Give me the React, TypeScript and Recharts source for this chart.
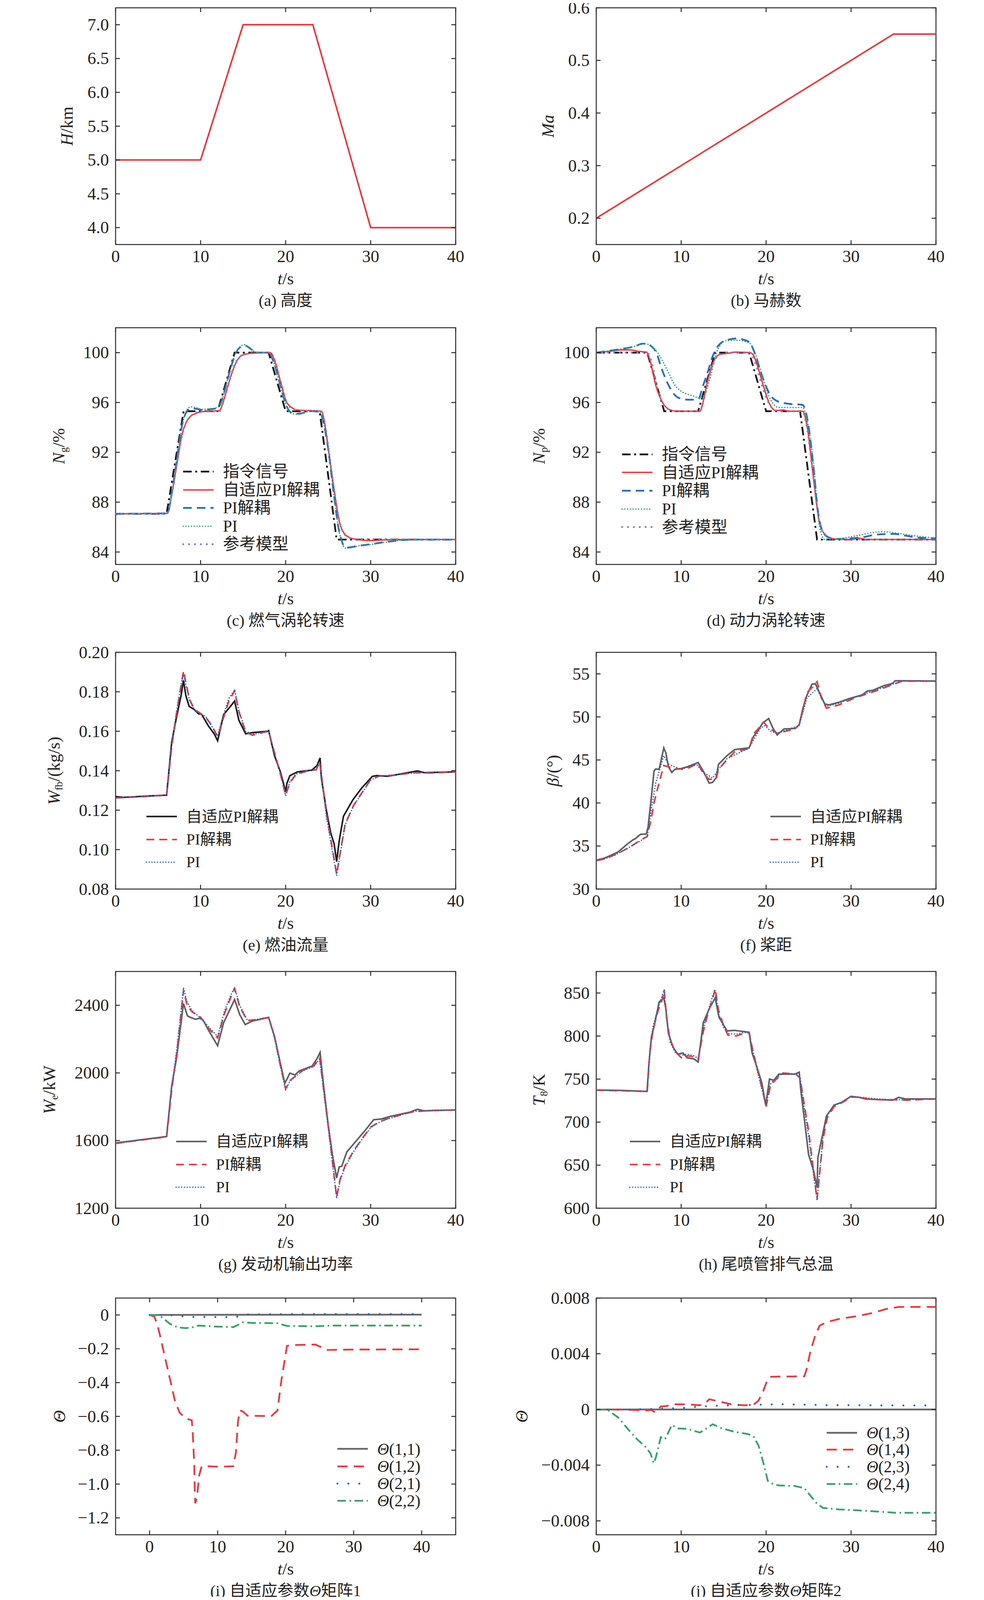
import React from "react";
import { Legend, Line, LineChart, ReferenceArea, XAxis, YAxis } from "recharts";

type Pt = [number, number];

const FONT = "'Liberation Serif', 'Times New Roman', 'Noto Sans CJK SC', serif";
const INK = "#231f20";
const FRAME = "#2b2b2b";

// the reference page is 2520 x 4698; the browser viewport may be shorter, so vertical layout is scaled to fit
const PAGE_W = 2520;
const PAGE_H = 4698;
const viewH = typeof window !== "undefined" && window.innerHeight > 1000 ? window.innerHeight : PAGE_H;
const K = Math.min(1, viewH / PAGE_H);

// ---- ticks ----
const timeTicks = [0, 10, 20, 30, 40];
const altitudeTicks = [4.0, 4.5, 5.0, 5.5, 6.0, 6.5, 7.0];
const machTicks = [0.2, 0.3, 0.4, 0.5, 0.6];
const speedTicks = [84, 88, 92, 96, 100];
const fuelTicks = [0.08, 0.1, 0.12, 0.14, 0.16, 0.18, 0.2];
const pitchTicks = [30, 35, 40, 45, 50, 55];
const powerTicks = [1200, 1600, 2000, 2400];
const tempTicks = [600, 650, 700, 750, 800, 850];
const theta1Ticks = [-1.2, -1.0, -0.8, -0.6, -0.4, -0.2, 0];
const theta2Ticks = [-0.008, -0.004, 0, 0.004, 0.008];

// ---- (a) (b) flight condition ----
const altitude: Pt[] = [[0, 5], [10, 5], [15, 7], [23.2, 7], [30, 4], [40, 4]];
const mach: Pt[] = [[0, 0.2], [35, 0.55], [40, 0.55]];

// ---- (c) gas turbine speed ----
const ngCommand: Pt[] = [[0, 87.07], [6, 87.07], [8, 95.3], [12, 95.3], [14, 100], [18, 100], [20, 95.3], [24, 95.3], [26, 85], [40, 85]];
const ngAdaptive: Pt[] = [[0, 86.95], [0.3, 87.07], [6.1, 87.1], [6.6, 88.6], [7.2, 91.0], [7.8, 93.4], [8.3, 94.4], [8.9, 94.95], [9.4, 95.1], [10, 95.25], [12.2, 95.35], [12.6, 95.9], [13.1, 97.06], [13.7, 98.4], [14.2, 99.25], [15, 99.83], [16, 99.95], [18.2, 100], [18.7, 99.4], [19.4, 97.7], [20.1, 96.05], [20.7, 95.6], [21.3, 95.4], [24.2, 95.3], [24.6, 94.3], [25, 92.4], [25.7, 89.0], [26.3, 86.5], [27, 85.4], [28, 85.05], [30, 84.92], [31, 84.95], [33, 85], [40, 85]];
const ngDecoupled: Pt[] = [[0, 87.07], [6.1, 87.1], [6.6, 88.7], [7.2, 91.4], [7.8, 94.1], [8.3, 95.2], [8.8, 95.5], [9.4, 95.5], [10.2, 95.4], [11, 95.45], [12, 95.55], [12.4, 96.0], [13, 97.4], [13.6, 98.9], [14.2, 100.05], [14.8, 100.5], [15.1, 100.6], [15.6, 100.45], [16.3, 100.1], [17, 100], [18, 100], [18.5, 99.4], [19.2, 97.8], [19.8, 96.3], [20.3, 95.45], [20.8, 95.15], [21.5, 95.1], [22.3, 95.2], [23, 95.3], [24, 95.25], [24.5, 94.2], [25, 92.3], [25.6, 89.0], [26.2, 86.0], [26.7, 84.7], [27.1, 84.35], [27.8, 84.4], [28.6, 84.5], [30, 84.62], [31.5, 84.78], [33, 84.9], [35, 85.0], [40, 85.0]];
const ngPI: Pt[] = [[0, 87.07], [6.1, 87.1], [6.6, 88.6], [7.2, 91.3], [7.8, 94.0], [8.3, 95.3], [8.8, 95.65], [9.4, 95.6], [10.2, 95.45], [11, 95.5], [12, 95.6], [12.4, 96.0], [13, 97.4], [13.6, 98.9], [14.2, 100.1], [14.8, 100.55], [15.1, 100.65], [15.6, 100.45], [16.3, 100.1], [17, 100], [18, 100], [18.5, 99.4], [19.2, 97.8], [19.8, 96.3], [20.3, 95.4], [20.8, 95.1], [21.5, 95.05], [22.3, 95.2], [23, 95.3], [24, 95.25], [24.5, 94.2], [25, 92.3], [25.6, 89.0], [26.2, 86.0], [26.7, 84.6], [27.1, 84.3], [27.8, 84.35], [28.6, 84.5], [30, 84.6], [31.5, 84.75], [33, 84.9], [35, 85.0], [40, 85.0]];
const ngReference: Pt[] = [[0, 87.07], [6, 87.07], [6.5, 88.2], [7.2, 91.0], [7.8, 93.3], [8.4, 94.5], [9, 95.0], [10, 95.25], [12.2, 95.3], [12.7, 96.2], [13.3, 97.6], [13.9, 98.9], [14.5, 99.6], [15.2, 99.85], [16, 99.95], [18.1, 100], [18.7, 99.3], [19.4, 97.6], [20.1, 96.0], [20.8, 95.5], [21.5, 95.35], [24.2, 95.3], [24.7, 94.0], [25.2, 91.6], [25.8, 88.6], [26.4, 86.3], [27, 85.35], [28, 85.05], [40, 85]];

// ---- (d) power turbine speed ----
const npCommand: Pt[] = [[0, 100], [6, 100], [8, 95.3], [12, 95.3], [14, 100], [18, 100], [20, 95.3], [24, 95.3], [26, 85], [40, 85]];
const npAdaptive: Pt[] = [[0, 100], [1.5, 100.1], [3, 100.22], [4, 100.22], [5, 100.1], [5.9, 100.05], [6.4, 99.2], [7.0, 97.4], [7.76, 96.05], [8.5, 95.47], [9.5, 95.3], [12.2, 95.3], [12.6, 96.1], [13.0, 97.4], [13.7, 99.1], [14.45, 99.83], [15.5, 99.95], [16.5, 100.05], [18.1, 100], [18.5, 99.8], [18.9, 99.1], [19.65, 97.4], [20.4, 95.9], [21.1, 95.35], [22, 95.4], [22.6, 95.3], [24.3, 95.3], [24.85, 94.0], [25.6, 89.8], [26.3, 86.3], [27.1, 85.3], [28, 85.05], [30, 85], [31, 85.1], [32, 85.0], [40, 85]];
const npDecoupled: Pt[] = [[0, 100], [1.5, 100.15], [3, 100.3], [4.5, 100.5], [5.5, 100.72], [6, 100.7], [6.5, 100.5], [7.0, 100.1], [7.76, 98.6], [8.5, 97.4], [9.25, 96.6], [10, 96.3], [11, 96.22], [12, 96.25], [12.6, 97.4], [13.2, 98.6], [13.7, 99.7], [14.2, 100.4], [14.8, 100.84], [15.6, 101.05], [16.5, 101.14], [17.3, 101.05], [18, 100.84], [18.7, 99.9], [19.5, 98.2], [20.4, 96.7], [21.5, 96.05], [22.6, 95.9], [24.3, 95.8], [24.85, 94.7], [25.6, 90.7], [26.1, 87.3], [26.7, 85.6], [27.45, 85.15], [28.5, 85.05], [30, 85.1], [31.5, 85.2], [33, 85.4], [35, 85.45], [36.5, 85.3], [38, 85.15], [40, 85.1]];
const npPI: Pt[] = [[0, 100], [1.5, 100.15], [3, 100.3], [4.5, 100.5], [5.5, 100.72], [6.2, 100.65], [7.0, 100.2], [7.76, 99.4], [8.5, 98.4], [9.25, 97.4], [10, 96.9], [10.8, 96.65], [11.5, 96.5], [12.2, 96.35], [12.7, 96.6], [13.3, 97.7], [14.1, 99.9], [14.6, 100.6], [15.2, 100.95], [16.5, 101.0], [17.5, 100.9], [18.2, 100.67], [18.8, 99.8], [19.3, 98.7], [20.4, 96.4], [21.5, 95.6], [24.3, 95.6], [24.85, 94.5], [25.6, 91], [26.3, 86], [26.9, 85.0], [27.5, 84.95], [29, 85.1], [31, 85.35], [33, 85.6], [34, 85.62], [35.5, 85.5], [37, 85.35], [40, 85.1]];
const npReference: Pt[] = [[0, 100], [6, 100], [6.5, 99.3], [7.1, 97.5], [7.8, 96.0], [8.5, 95.45], [9.5, 95.3], [12.2, 95.3], [12.7, 96.3], [13.3, 97.9], [13.9, 99.3], [14.6, 99.85], [15.5, 100], [18.1, 100], [18.7, 99.2], [19.4, 97.6], [20.2, 96.1], [21, 95.4], [22, 95.3], [24.2, 95.3], [24.8, 94.0], [25.5, 90.3], [26.2, 86.7], [27, 85.3], [28, 85.02], [40, 85]];

// ---- (e) fuel flow ----
const fuelAdaptive: Pt[] = [[0, 0.1269], [1, 0.1265], [3, 0.127], [6, 0.1276], [6.6, 0.1545], [7.16, 0.167], [7.7, 0.178], [7.98, 0.1858], [8.27, 0.178], [8.65, 0.1726], [9.2, 0.1712], [9.76, 0.1688], [10.1, 0.1687], [10.9, 0.1628], [11.6, 0.1587], [12.0, 0.1552], [12.7, 0.1684], [13.5, 0.1726], [14.0, 0.1753], [14.5, 0.1656], [15.3, 0.1587], [16.1, 0.1593], [17.9, 0.16], [18.0, 0.1603], [18.7, 0.1475], [19.4, 0.1392], [20.0, 0.1294], [20.15, 0.1336], [20.5, 0.1375], [21.4, 0.1394], [23.1, 0.1403], [23.7, 0.1427], [24.05, 0.1465], [24.2, 0.1364], [24.8, 0.1197], [25.3, 0.1085], [25.7, 0.103], [26.0, 0.0939], [26.3, 0.1044], [26.8, 0.1169], [27.9, 0.1252], [29.0, 0.1315], [30.2, 0.1371], [30.7, 0.1375], [32, 0.1372], [33.5, 0.1383], [35.5, 0.1399], [36.3, 0.139], [40, 0.1394]];
const fuelDecoupled: Pt[] = [[0, 0.1262], [3, 0.1268], [6, 0.1276], [6.6, 0.152], [7.2, 0.17], [7.7, 0.183], [8.0, 0.1907], [8.3, 0.184], [8.7, 0.176], [9.3, 0.171], [10, 0.169], [10.6, 0.167], [11.3, 0.163], [12.0, 0.1573], [12.6, 0.1655], [13.3, 0.175], [14.0, 0.1805], [14.5, 0.17], [15.3, 0.1595], [16.1, 0.158], [17, 0.159], [18, 0.16], [18.7, 0.149], [19.4, 0.138], [20.0, 0.1275], [20.5, 0.134], [21.2, 0.138], [22.5, 0.1398], [23.6, 0.1405], [24.0, 0.1443], [24.3, 0.135], [24.8, 0.118], [25.4, 0.103], [26.0, 0.0875], [26.4, 0.098], [27, 0.113], [28, 0.1225], [29, 0.129], [30, 0.1355], [31, 0.1372], [33, 0.1378], [35, 0.139], [37, 0.1388], [40, 0.1394]];
const fuelPI: Pt[] = [[0, 0.1262], [3, 0.1268], [6, 0.1276], [6.6, 0.1535], [7.2, 0.171], [7.7, 0.1835], [7.95, 0.1895], [8.3, 0.183], [8.7, 0.1755], [9.3, 0.1705], [10, 0.1688], [10.6, 0.1675], [11.3, 0.1625], [12.0, 0.1578], [12.6, 0.167], [13.3, 0.1765], [14.0, 0.181], [14.5, 0.1705], [15.3, 0.16], [16.1, 0.1585], [17, 0.1592], [18, 0.1601], [18.7, 0.1488], [19.4, 0.1385], [20.0, 0.1272], [20.5, 0.1345], [21.2, 0.1382], [22.5, 0.1398], [23.6, 0.1405], [24.0, 0.1438], [24.3, 0.134], [24.8, 0.1165], [25.4, 0.1015], [26.0, 0.0868], [26.4, 0.0975], [27, 0.1125], [28, 0.1222], [29, 0.1288], [30, 0.1352], [31, 0.1372], [33, 0.138], [35, 0.1388], [37, 0.1392], [40, 0.1396]];

// ---- (f) propeller pitch ----
const pitchAdaptive: Pt[] = [[0, 33.35], [1, 33.6], [2.56, 34.3], [3.7, 35.26], [4.3, 35.7], [4.6, 35.85], [5.2, 36.35], [5.9, 36.4], [6.1, 37.2], [6.46, 40.4], [6.8, 43.7], [7.0, 43.95], [7.4, 43.9], [7.95, 46.4], [8.2, 45.8], [8.5, 44.2], [8.9, 43.55], [9.25, 43.9], [10, 44.0], [10.7, 44.2], [12.0, 44.7], [12.6, 43.7], [13.3, 42.3], [13.7, 42.4], [14.1, 42.9], [14.4, 44.5], [15.4, 45.5], [16.3, 46.2], [18.0, 46.4], [18.5, 47.7], [19.1, 48.5], [19.6, 49.3], [20.3, 49.8], [20.8, 48.7], [21.3, 47.9], [22.1, 48.6], [23.4, 48.65], [23.9, 49.1], [24.3, 50.9], [24.8, 52.5], [25.4, 53.8], [25.8, 53.85], [26.3, 52.8], [26.9, 51.5], [27.4, 51.4], [28.6, 51.7], [29.7, 52.1], [31.3, 52.55], [31.9, 53.0], [32.6, 53.1], [33.8, 53.6], [34.9, 53.9], [35.2, 54.2], [36, 54.2], [40, 54.17]];
const pitchDecoupled: Pt[] = [[0, 33.3], [1, 33.5], [2.5, 34.1], [4, 34.9], [5.2, 35.7], [6, 36.1], [6.46, 38.1], [6.8, 40], [7.2, 41.6], [7.95, 44.35], [9.25, 44.0], [10.5, 43.9], [12.0, 44.6], [12.6, 43.4], [13.3, 42.75], [14.1, 42.75], [14.4, 43.9], [15.2, 44.8], [16.3, 45.95], [18, 46.3], [18.5, 48.0], [19.5, 49.1], [19.7, 49.4], [20.2, 48.8], [21.3, 48.1], [23.4, 48.6], [23.9, 49.1], [24.8, 52.8], [25.6, 53.6], [26.0, 54.1], [26.5, 52.2], [27.1, 51.0], [28.6, 51.4], [30.4, 52.2], [32.3, 52.8], [34.9, 53.75], [36, 54.15], [40, 54.15]];
const pitchPI: Pt[] = [[0, 33.3], [1, 33.5], [2.5, 34.1], [4, 34.9], [5.2, 35.6], [6, 36.1], [6.46, 39.1], [7.0, 42.3], [7.95, 45.5], [8.5, 44.5], [10, 43.9], [11.8, 44.5], [12.6, 43.55], [13.7, 42.9], [14.4, 43.9], [15.4, 45.15], [18, 46.4], [19.3, 48.65], [19.8, 49.0], [20.6, 48.3], [21.3, 48.1], [23.9, 49.0], [24.8, 52.2], [26.0, 53.3], [26.5, 52.2], [27.1, 51.2], [28.6, 51.6], [30.4, 52.3], [32.3, 52.9], [34.9, 53.8], [36, 54.15], [40, 54.15]];

// ---- (g) engine output power ----
const powerAdaptive: Pt[] = [[0, 1586], [3, 1605], [6, 1624], [6.6, 1923], [7.16, 2085], [7.7, 2296], [7.98, 2410], [8.46, 2337], [8.8, 2329], [9.4, 2317], [9.9, 2324], [10.3, 2312], [10.9, 2255], [12.0, 2161], [12.7, 2296], [14.0, 2434], [14.6, 2345], [15.25, 2286], [16.1, 2307], [18.0, 2328], [18.7, 2215], [19.4, 2052], [19.9, 1939], [20.15, 1963], [20.5, 1999], [21.1, 1988], [21.6, 2012], [23.1, 2040], [23.7, 2085], [24.05, 2122], [24.4, 1955], [25.0, 1695], [25.5, 1517], [26.0, 1379], [26.3, 1444], [26.6, 1448], [27.2, 1533], [28.3, 1598], [29.4, 1663], [30.35, 1723], [31.3, 1728], [32.4, 1744], [34.6, 1768], [35.5, 1785], [36.3, 1776], [40, 1781]];
const powerDecoupled: Pt[] = [[0, 1583], [3, 1603], [6, 1622], [6.6, 1900], [7.2, 2120], [7.7, 2350], [8.0, 2490], [8.4, 2400], [9.0, 2361], [10, 2330], [11, 2260], [12, 2207], [12.8, 2350], [13.5, 2440], [14, 2499], [14.6, 2390], [15.5, 2309], [16.5, 2315], [18, 2328], [18.7, 2210], [19.4, 2040], [20, 1906], [20.5, 1955], [21, 1975], [22, 2015], [23.3, 2040], [24, 2090], [24.4, 1930], [25, 1690], [25.5, 1480], [26, 1265], [26.4, 1370], [27, 1452], [28, 1540], [29, 1612], [30, 1680], [31, 1710], [32, 1730], [34, 1758], [35, 1770], [37, 1778], [40, 1781]];
const powerPI: Pt[] = [[0, 1583], [3, 1603], [6, 1622], [6.6, 1915], [7.2, 2140], [7.7, 2370], [7.98, 2505], [8.4, 2420], [9.0, 2368], [10, 2325], [11, 2270], [12, 2215], [12.8, 2365], [13.5, 2455], [14, 2505], [14.6, 2400], [15.5, 2312], [16.5, 2316], [18, 2330], [18.7, 2205], [19.4, 2035], [20, 1900], [20.5, 1950], [21, 1972], [22, 2012], [23.3, 2038], [24, 2082], [24.4, 1920], [25, 1680], [25.5, 1470], [26, 1258], [26.4, 1362], [27, 1445], [28, 1535], [29, 1608], [30, 1676], [31, 1708], [32, 1728], [34, 1757], [35, 1772], [37, 1779], [40, 1782]];

// ---- (h) exhaust total temperature ----
const tempAdaptive: Pt[] = [[0, 737.3], [3, 736.8], [5.98, 735.7], [6.2, 767.6], [6.5, 799.6], [6.8, 810.7], [7.4, 839.5], [7.95, 844.3], [8.2, 831.5], [8.5, 802.8], [9.06, 786.8], [9.6, 778.8], [10.2, 780.4], [10.7, 774.7], [11.5, 773.4], [12.0, 769.9], [12.6, 815.5], [13.3, 831.5], [14.0, 844.3], [14.45, 821.9], [15.4, 806], [16.3, 806.6], [18.0, 804.4], [18.35, 780.4], [18.9, 764.4], [19.5, 745.3], [19.95, 719.7], [20.4, 750], [20.9, 748.5], [21.5, 755.8], [23.4, 755.8], [23.9, 758], [24.1, 735.7], [24.5, 703.8], [25.0, 662.3], [25.6, 643.1], [26.0, 624], [26.1, 659], [26.5, 678.2], [27.1, 707], [28.0, 719.7], [28.9, 723], [30.0, 730], [31.0, 728.7], [31.7, 726.8], [33.4, 726.1], [34.9, 725.5], [35.6, 728.7], [36.4, 727], [40, 727]];
const tempDecoupled: Pt[] = [[0, 737], [3, 736.5], [6, 735.5], [6.3, 780], [6.7, 808], [7.3, 830], [7.7, 840], [8.0, 853.5], [8.3, 820], [8.7, 795], [9.3, 782], [10.2, 773], [10.7, 777], [11.5, 776], [12.0, 773], [12.6, 805], [13.2, 828], [13.7, 843], [14.0, 855], [14.4, 830], [15.0, 812], [15.5, 801], [16.5, 800], [17.3, 803], [18, 804], [18.4, 785], [19, 760], [19.5, 740], [20, 718], [20.5, 742], [21, 748], [22, 757], [23.5, 756], [24, 751], [24.5, 720], [25, 690], [25.5, 650], [26, 610], [26.3, 640], [26.7, 680], [27.2, 705], [28, 718], [29, 723], [30, 729], [31, 729], [32, 727], [33, 726], [35, 726], [36.5, 725.5], [40, 727]];
const tempPI: Pt[] = [[0, 737], [3, 736.5], [6, 735.5], [6.3, 782], [6.7, 812], [7.3, 833], [7.7, 845], [8.0, 854], [8.3, 818], [8.7, 793], [9.3, 781], [10.2, 778], [10.7, 779], [11.5, 777], [12.0, 774], [12.6, 808], [13.2, 830], [13.7, 846], [14.0, 853], [14.4, 826], [15.0, 810], [15.5, 803], [16.5, 802], [17.3, 804], [18, 804], [18.4, 784], [19, 758], [19.5, 738], [20, 720], [20.5, 744], [21, 750], [22, 757], [23.5, 756], [24, 752], [24.5, 716], [25, 684], [25.5, 645], [26, 609], [26.3, 642], [26.7, 684], [27.2, 708], [28, 719], [29, 724], [30, 730], [31, 729], [32, 728], [33, 727], [35, 726], [36.5, 726], [40, 727]];

// ---- (i) adaptive parameter matrix 1 ----
const theta11: Pt[] = [[0, 0], [14, 0.001], [40, 0.002]];
const theta12: Pt[] = [[0, 0], [0.7, -0.01], [1.16, -0.06], [1.6, -0.133], [2.3, -0.257], [3.0, -0.38], [3.7, -0.503], [4.4, -0.577], [5.3, -0.612], [6.2, -0.623], [6.35, -0.7], [6.55, -0.873], [6.7, -1.114], [6.95, -1.083], [7.3, -0.947], [7.66, -0.895], [8.6, -0.895], [10.4, -0.898], [12.3, -0.895], [12.7, -0.81], [13.0, -0.627], [13.3, -0.565], [13.7, -0.571], [14.4, -0.596], [17.9, -0.598], [18.8, -0.565], [19.4, -0.38], [19.9, -0.257], [20.2, -0.183], [21.1, -0.178], [24.4, -0.175], [25.1, -0.189], [26.0, -0.207], [29.0, -0.205], [40, -0.203]];
const theta21: Pt[] = [[0, 0], [3, -0.001], [4, -0.005], [6.5, -0.012], [12.5, -0.013], [13.5, -0.004], [14.5, 0.003], [20, 0.005], [40, 0.005]];
const theta22: Pt[] = [[0, 0], [1.4, 0], [3.0, -0.053], [4.2, -0.074], [5.3, -0.078], [6.2, -0.074], [7.2, -0.063], [10, -0.069], [12.3, -0.072], [13.0, -0.059], [13.7, -0.044], [15.1, -0.047], [18.8, -0.049], [20.2, -0.065], [24.4, -0.067], [26.7, -0.063], [40, -0.063]];

// ---- (j) adaptive parameter matrix 2 ----
const theta13: Pt[] = [[0, 0], [40, 0]];
const theta14: Pt[] = [[0, 0], [2.6, 0], [4.4, -0.00004], [5.9, -0.00008], [6.5, -0.00004], [6.95, -0.00022], [7.6, 0.00021], [8.3, 0.00025], [9.2, 0.00037], [10.7, 0.00037], [12.2, 0.0003], [12.8, 0.00043], [13.3, 0.00073], [14.4, 0.00058], [15.9, 0.00037], [17.4, 0.0003], [18.5, 0.00033], [19.1, 0.00063], [19.65, 0.0013], [20.2, 0.0022], [20.6, 0.00235], [24.5, 0.00238], [24.8, 0.00295], [25.2, 0.00414], [25.8, 0.00534], [26.3, 0.00601], [27.1, 0.00627], [28.6, 0.0065], [30.8, 0.00671], [32.6, 0.00694], [34.1, 0.00721], [35.6, 0.00736], [40, 0.00736]];
const theta23: Pt[] = [[0, 0], [4, 0], [10, 0.0001], [12.2, 0.00021], [14.8, 0.00028], [18.5, 0.00033], [22.2, 0.00037], [27.1, 0.00031], [40, 0.00028]];
const theta24: Pt[] = [[0, 0], [1.26, 0], [2.56, -0.00057], [3.7, -0.00139], [4.8, -0.00214], [5.9, -0.00274], [6.4, -0.00318], [6.76, -0.00386], [7.0, -0.00348], [7.6, -0.00199], [8.1, -0.00214], [8.9, -0.00112], [9.6, -0.00136], [10.7, -0.00139], [12.2, -0.00166], [13.0, -0.00136], [13.7, -0.00106], [14.8, -0.00136], [16.3, -0.00161], [17.8, -0.00176], [18.5, -0.00191], [19.1, -0.00259], [19.65, -0.00378], [20.2, -0.00513], [20.8, -0.00535], [21.5, -0.00546], [23.4, -0.0055], [24.5, -0.00565], [25.2, -0.00618], [26.0, -0.00677], [26.7, -0.00707], [28.6, -0.00718], [30.8, -0.00725], [33.0, -0.00733], [35.2, -0.00742], [40, -0.00742]];

// ---- line styles ----
type Style = { color: string; width: number; dash?: string; cap?: "round" | "butt"; curve: "linear" | "monotone" };

const flightLine: Style = { color: "#e8363d", width: 4, curve: "linear" };
const cmdLine: Style = { color: "#151515", width: 4.5, dash: "22 9 5 9", curve: "linear" };
const adaptSpeed: Style = { color: "#e8373f", width: 3.5, curve: "monotone" };
const decSpeed: Style = { color: "#2d6bb5", width: 4.5, dash: "22 13", curve: "monotone" };
const piSpeed: Style = { color: "#2e9d68", width: 3.5, dash: "0.1 7", cap: "round", curve: "monotone" };
const refSpeed: Style = { color: "#9477c8", width: 5, dash: "0.1 15", cap: "round", curve: "monotone" };
const adaptBlack: Style = { color: "#1a1a1a", width: 4, curve: "linear" };
const adaptGray: Style = { color: "#5e5e5e", width: 4, curve: "linear" };
const decRed: Style = { color: "#e23b46", width: 4, dash: "20 13", curve: "linear" };
const piBlue: Style = { color: "#2c66b3", width: 3.5, dash: "0.1 7", cap: "round", curve: "linear" };
const thGray: Style = { color: "#666666", width: 4.5, curve: "linear" };
const thRed: Style = { color: "#e33b45", width: 4.5, dash: "26 16", curve: "linear" };
const thBlue: Style = { color: "#2c66b3", width: 5, dash: "0.1 28", cap: "round", curve: "linear" };
const thGreen: Style = { color: "#3aa06a", width: 4.5, dash: "22 9 4 9", curve: "linear" };

type Series = { key: string; name?: React.ReactNode; data: Pt[]; style: Style };

// legend and panel positions below are in reference-page pixels; they are scaled by K when drawn
type LegendSpec = { top: number; left: number; row: number; font: number };

type PanelSpec = {
  col: 0 | 1;
  plotTop: number;
  xDomain: [number, number];
  yDomain: [number, number];
  yTicks: number[];
  yFmt: (v: number) => string;
  yTitle: React.ReactNode;
  yTitleX: number;
  caption: React.ReactNode;
  series: Series[];
  legend?: LegendSpec;
};

const CHART_W = 1260;
const TOP = 36;
const PLOT_H = Math.round(695 * K);
const X_AXIS_H = 60;
const CHART_H = TOP + PLOT_H + X_AXIS_H;
const TICK_LEN = 11;

const minus = (s: string) => s.replace("-", "\u2212");
const fmt0 = (v: number) => String(v);
const fmt1 = (v: number) => v.toFixed(1);
const fmt2 = (v: number) => v.toFixed(2);
const fmtTheta1 = (v: number) => (v === 0 ? "0" : minus(v.toFixed(1)));
const fmtTheta2 = (v: number) => (Math.abs(v) < 1e-9 ? "0" : minus(v.toFixed(3)));

const rows = (pts: Pt[]) => pts.map(([t, v]) => ({ t, v }));

function LegendBox({ series, spec }: { series: Series[]; spec: LegendSpec }) {
  const row = spec.row * K;
  return (
    <div style={{ fontFamily: FONT, color: INK }}>
      {series
        .filter((s) => s.name)
        .map((s) => (
          <div key={s.key} style={{ display: "flex", alignItems: "center", height: row }}>
            <svg width={82} height={row} style={{ display: "block" }}>
              <line
                x1={2}
                x2={80}
                y1={row / 2}
                y2={row / 2}
                stroke={s.style.color}
                strokeWidth={s.style.width}
                strokeDasharray={s.style.dash}
                strokeLinecap={s.style.cap ?? "butt"}
              />
            </svg>
            <span style={{ marginLeft: 22, fontSize: spec.font, whiteSpace: "nowrap", lineHeight: 1 }}>{s.name}</span>
          </div>
        ))}
    </div>
  );
}

function Panel({ spec }: { spec: PanelSpec }) {
  const yw = spec.col === 0 ? 296 : 267;
  const plotW = spec.col === 0 ? 871 : 870;
  const right = CHART_W - yw - plotW;
  const L = yw;
  const R = yw + plotW;
  const T = TOP;
  const B = TOP + PLOT_H;
  const cx = yw + plotW / 2;

  const yTick = (p: any) => (
    <g>
      <line x1={L} x2={L + TICK_LEN} y1={p.y} y2={p.y} stroke={FRAME} strokeWidth={2.5} />
      <line x1={R - TICK_LEN} x2={R} y1={p.y} y2={p.y} stroke={FRAME} strokeWidth={2.5} />
      <text x={L - 17} y={p.y} textAnchor="end" dominantBaseline="central" fontSize={44} fontFamily={FONT} fill={INK}>
        {spec.yFmt(p.payload.value)}
      </text>
    </g>
  );
  const xTick = (p: any) => (
    <g>
      <line x1={p.x} x2={p.x} y1={B} y2={B - TICK_LEN} stroke={FRAME} strokeWidth={2.5} />
      <line x1={p.x} x2={p.x} y1={T} y2={T + TICK_LEN} stroke={FRAME} strokeWidth={2.5} />
      <text x={p.x} y={B + 35 * K} textAnchor="middle" dominantBaseline="central" fontSize={44} fontFamily={FONT} fill={INK}>
        {p.payload.value}
      </text>
    </g>
  );

  const textBase: React.CSSProperties = {
    position: "absolute",
    fontFamily: FONT,
    color: INK,
    whiteSpace: "nowrap",
    lineHeight: 1,
  };

  return (
    <div
      style={{
        position: "absolute",
        left: spec.col === 0 ? 0 : 1260,
        top: Math.round(spec.plotTop * K) - TOP,
        width: CHART_W,
        height: CHART_H + 110,
      }}
    >
      <LineChart width={CHART_W} height={CHART_H} margin={{ top: TOP, right, bottom: 0, left: 0 }}>
        <XAxis
          type="number"
          dataKey="t"
          domain={spec.xDomain}
          ticks={timeTicks}
          interval={0}
          allowDataOverflow
          height={X_AXIS_H}
          axisLine={false}
          tickLine={false}
          tickSize={0}
          tick={xTick}
        />
        <YAxis
          type="number"
          domain={spec.yDomain}
          ticks={spec.yTicks}
          interval={0}
          allowDataOverflow
          width={yw}
          axisLine={false}
          tickLine={false}
          tickSize={0}
          tick={yTick}
        />
        {spec.series.map((s) => (
          <Line
            key={s.key}
            data={rows(s.data)}
            dataKey="v"
            name={s.key}
            type={s.style.curve}
            stroke={s.style.color}
            strokeWidth={s.style.width}
            strokeDasharray={s.style.dash}
            strokeLinecap={s.style.cap ?? "butt"}
            dot={false}
            activeDot={false}
            isAnimationActive={false}
          />
        ))}
        <ReferenceArea
          x1={spec.xDomain[0]}
          x2={spec.xDomain[1]}
          y1={spec.yDomain[0]}
          y2={spec.yDomain[1]}
          fill="none"
          fillOpacity={0}
          stroke={FRAME}
          strokeWidth={2.5}
          ifOverflow="visible"
        />
        {spec.legend && (
          <Legend
            layout="vertical"
            align="center"
            verticalAlign="middle"
            wrapperStyle={{ left: spec.legend.left, top: T + spec.legend.top * K, width: 420, height: "auto" }}
            content={() => <LegendBox series={spec.series} spec={spec.legend!} />}
          />
        )}
      </LineChart>
      <div
        style={{
          ...textBase,
          left: spec.yTitleX,
          top: T + PLOT_H / 2,
          fontSize: 44,
          transform: "translate(-50%, -50%) rotate(-90deg)",
        }}
      >
        {spec.yTitle}
      </div>
      <div style={{ ...textBase, left: cx, top: B + 101 * K, fontSize: 44, transform: "translate(-50%, -50%)" }}>
        <i>t</i>/s
      </div>
      <div style={{ ...textBase, left: cx, top: B + 164 * K, fontSize: 41, transform: "translate(-50%, -50%)" }}>
        {spec.caption}
      </div>
    </div>
  );
}

const sub: React.CSSProperties = { fontSize: "0.62em", verticalAlign: "-0.25em" };
const th = (a: string) => (
  <>
    <i>Θ</i>({a})
  </>
);

// legend.top is measured from the plot's top edge, in reference pixels
const panels: PanelSpec[] = [
  {
    col: 0, plotTop: 23, xDomain: [0, 40], yDomain: [3.75, 7.25], yTicks: altitudeTicks, yFmt: fmt1,
    yTitle: <><i>H</i>/km</>, yTitleX: 172, caption: "(a) 高度",
    series: [{ key: "H", data: altitude, style: flightLine }],
  },
  {
    col: 1, plotTop: 23, xDomain: [0, 40], yDomain: [0.15, 0.6], yTicks: machTicks, yFmt: fmt1,
    yTitle: <i>Ma</i>, yTitleX: 144, caption: "(b) 马赫数",
    series: [{ key: "Ma", data: mach, style: flightLine }],
  },
  {
    col: 0, plotTop: 962, xDomain: [0, 40], yDomain: [83, 102], yTicks: speedTicks, yFmt: fmt0,
    yTitle: <><i>N</i><span style={sub}>g</span>/%</>, yTitleX: 153, caption: "(c) 燃气涡轮转速",
    legend: { left: 467, top: 396, row: 53.3, font: 42 },
    series: [
      { key: "cmd", name: "指令信号", data: ngCommand, style: cmdLine },
      { key: "adaptive", name: "自适应PI解耦", data: ngAdaptive, style: adaptSpeed },
      { key: "decoupled", name: "PI解耦", data: ngDecoupled, style: decSpeed },
      { key: "pi", name: "PI", data: ngPI, style: piSpeed },
      { key: "ref", name: "参考模型", data: ngReference, style: refSpeed },
    ],
  },
  {
    col: 1, plotTop: 962, xDomain: [0, 40], yDomain: [83, 102], yTicks: speedTicks, yFmt: fmt0,
    yTitle: <><i>N</i><span style={sub}>p</span>/%</>, yTitleX: 123, caption: "(d) 动力涡轮转速",
    legend: { left: 331, top: 345, row: 53.5, font: 42 },
    series: [
      { key: "cmd", name: "指令信号", data: npCommand, style: cmdLine },
      { key: "adaptive", name: "自适应PI解耦", data: npAdaptive, style: adaptSpeed },
      { key: "decoupled", name: "PI解耦", data: npDecoupled, style: decSpeed },
      { key: "pi", name: "PI", data: npPI, style: piSpeed },
      { key: "ref", name: "参考模型", data: npReference, style: refSpeed },
    ],
  },
  {
    col: 0, plotTop: 1916, xDomain: [0, 40], yDomain: [0.08, 0.2], yTicks: fuelTicks, yFmt: fmt2,
    yTitle: <><i>W</i><span style={sub}>fb</span>/(kg/s)</>, yTitleX: 141, caption: "(e) 燃油流量",
    legend: { left: 373, top: 449, row: 67, font: 40 },
    series: [
      { key: "adaptive", name: "自适应PI解耦", data: fuelAdaptive, style: adaptBlack },
      { key: "decoupled", name: "PI解耦", data: fuelDecoupled, style: decRed },
      { key: "pi", name: "PI", data: fuelPI, style: piBlue },
    ],
  },
  {
    col: 1, plotTop: 1916, xDomain: [0, 40], yDomain: [30, 57.5], yTicks: pitchTicks, yFmt: fmt0,
    yTitle: <><i>β</i>/(°)</>, yTitleX: 157, caption: "(f) 桨距",
    legend: { left: 711, top: 449, row: 67, font: 40 },
    series: [
      { key: "adaptive", name: "自适应PI解耦", data: pitchAdaptive, style: adaptGray },
      { key: "decoupled", name: "PI解耦", data: pitchDecoupled, style: decRed },
      { key: "pi", name: "PI", data: pitchPI, style: piBlue },
    ],
  },
  {
    col: 0, plotTop: 2853, xDomain: [0, 40], yDomain: [1200, 2600], yTicks: powerTicks, yFmt: fmt0,
    yTitle: <><i>W</i><span style={sub}>e</span>/kW</>, yTitleX: 129, caption: "(g) 发动机输出功率",
    legend: { left: 449, top: 466, row: 67, font: 40 },
    series: [
      { key: "adaptive", name: "自适应PI解耦", data: powerAdaptive, style: adaptGray },
      { key: "decoupled", name: "PI解耦", data: powerDecoupled, style: decRed },
      { key: "pi", name: "PI", data: powerPI, style: piBlue },
    ],
  },
  {
    col: 1, plotTop: 2853, xDomain: [0, 40], yDomain: [600, 875], yTicks: tempTicks, yFmt: fmt0,
    yTitle: <><i>T</i><span style={sub}>8</span>/K</>, yTitleX: 123, caption: "(h) 尾喷管排气总温",
    legend: { left: 351, top: 466, row: 67, font: 40 },
    series: [
      { key: "adaptive", name: "自适应PI解耦", data: tempAdaptive, style: adaptGray },
      { key: "decoupled", name: "PI解耦", data: tempDecoupled, style: decRed },
      { key: "pi", name: "PI", data: tempPI, style: piBlue },
    ],
  },
  {
    col: 0, plotTop: 3811, xDomain: [-5, 45], yDomain: [-1.3, 0.1], yTicks: theta1Ticks, yFmt: fmtTheta1,
    yTitle: <i>Θ</i>, yTitleX: 153, caption: <>(i) 自适应参数<i>Θ</i>矩阵1</>,
    legend: { left: 862, top: 418, row: 50.7, font: 42 },
    series: [
      { key: "t11", name: th("1,1"), data: theta11, style: thGray },
      { key: "t12", name: th("1,2"), data: theta12, style: thRed },
      { key: "t21", name: th("2,1"), data: theta21, style: thBlue },
      { key: "t22", name: th("2,2"), data: theta22, style: thGreen },
    ],
  },
  {
    col: 1, plotTop: 3811, xDomain: [0, 40], yDomain: [-0.009, 0.008], yTicks: theta2Ticks, yFmt: fmtTheta2,
    yTitle: <i>Θ</i>, yTitleX: 77, caption: <>(j) 自适应参数<i>Θ</i>矩阵2</>,
    legend: { left: 855, top: 370, row: 50.3, font: 42 },
    series: [
      { key: "t13", name: th("1,3"), data: theta13, style: thGray },
      { key: "t14", name: th("1,4"), data: theta14, style: thRed },
      { key: "t23", name: th("2,3"), data: theta23, style: thBlue },
      { key: "t24", name: th("2,4"), data: theta24, style: thGreen },
    ],
  },
];

export default function App() {
  return (
    <div style={{ position: "relative", margin: -8, width: PAGE_W, height: Math.round(PAGE_H * K), background: "#ffffff" }}>
      {panels.map((p, i) => (
        <Panel key={i} spec={p} />
      ))}
    </div>
  );
}
